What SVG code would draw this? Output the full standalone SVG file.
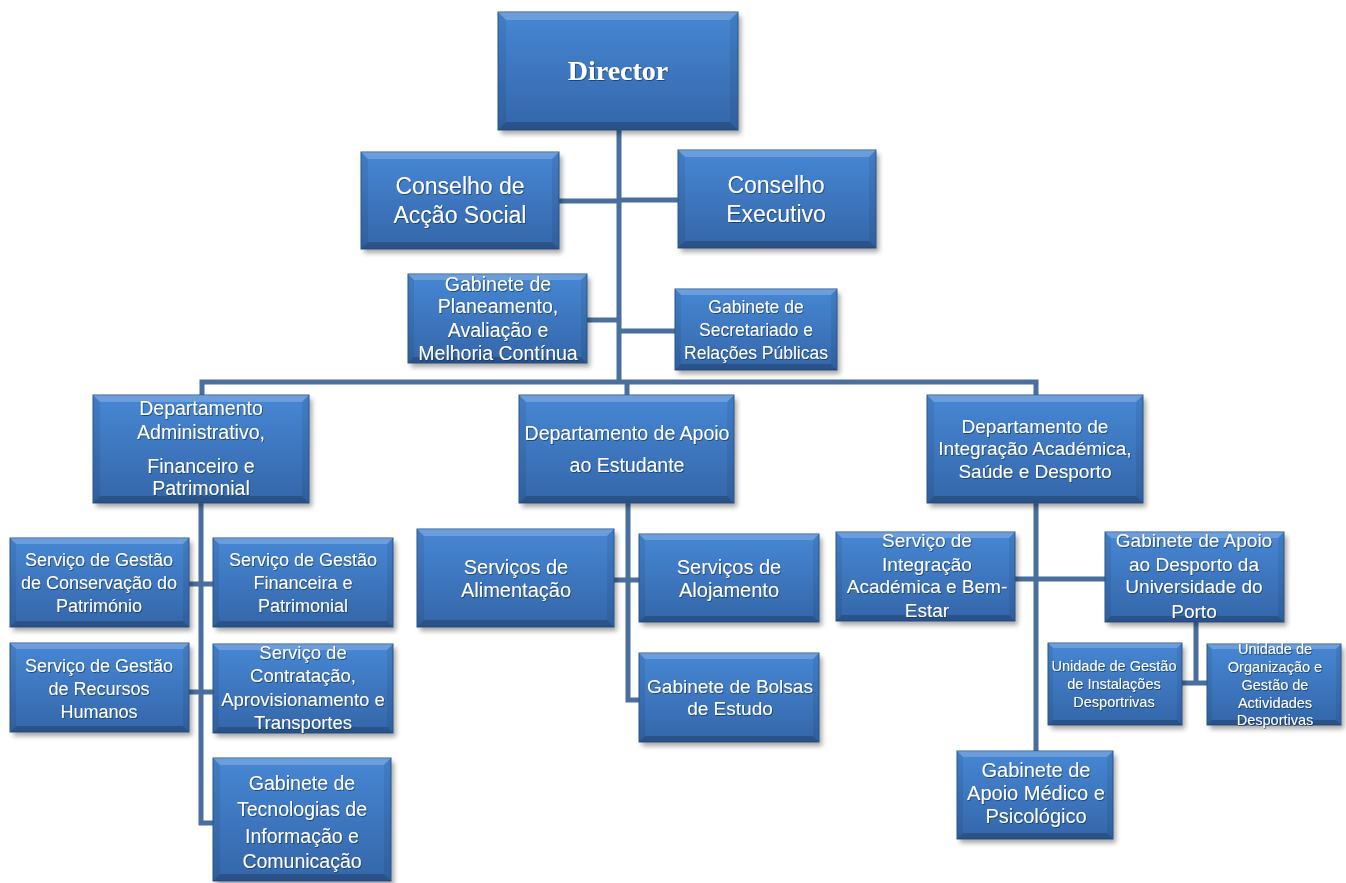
<svg xmlns="http://www.w3.org/2000/svg" width="1346" height="883" viewBox="0 0 1346 883">
<defs>
<linearGradient id="g" x1="0" y1="0" x2="0" y2="1">
<stop offset="0" stop-color="#4787d4"/>
<stop offset="1" stop-color="#3466a9"/>
</linearGradient>
<filter id="sh" x="-10%" y="-10%" width="130%" height="140%">
<feGaussianBlur stdDeviation="2.5"/>
</filter>
<filter id="ts" x="-5%" y="-20%" width="110%" height="140%">
<feDropShadow dx="0.8" dy="1" stdDeviation="0.7" flood-color="#17345c" flood-opacity="0.75"/>
</filter>
</defs>
<style>
.shadow{fill:#000;opacity:0.35;filter:url(#sh)}
.box{fill:url(#g);stroke:#2c5a92;stroke-width:1}
.bt{fill:#ffffff;opacity:0.2}
.bb{fill:#000;opacity:0.2}
.bs{fill:#000;opacity:0.07}
.conn{fill:none;stroke:#4a6f9e;stroke-width:5}
text{fill:#fff;font-family:"Liberation Sans","Noto Sans",sans-serif;text-anchor:middle;filter:url(#ts)}
.dir{font-family:"Liberation Serif","DejaVu Serif",serif;font-weight:bold;font-size:28px}
</style>
<rect width="1346" height="883" fill="#fff"/>
<g id="connectors">
<path class="conn" d="M619,130V382"/>
<path class="conn" d="M559,201H619M619,200H678"/>
<path class="conn" d="M587,320H619M619,331H675"/>
<path class="conn" d="M202,395V382H1036V395M627,382V395"/>
<path class="conn" d="M201,503V823H213M189,584H213M189,692H213"/>
<path class="conn" d="M628,503V700H639M614,580H639"/>
<path class="conn" d="M1036,503V751M1015,579H1105M1196,622V683M1182,683H1207"/>
</g>
<g id="director">
<rect class="shadow" x="501" y="16" width="240" height="118"/>
<rect class="box" x="498" y="12" width="240" height="118"/>
<path class="bt" d="M498,12h240l-8,8h-224Z"/><path class="bb" d="M498,130h240l-8,-8h-224Z"/><path class="bs" d="M498,12l8,8v102l-8,8ZM738,12l-8,8v102l8,8Z"/>
<text class="dir" x="618" y="80">Director</text>
</g>
<g id="conselho-social">
<rect class="shadow" x="364" y="156" width="198" height="97"/>
<rect class="box" x="361" y="152" width="198" height="97"/>
<path class="bt" d="M361,152h198l-7,7h-184Z"/><path class="bb" d="M361,249h198l-7,-7h-184Z"/><path class="bs" d="M361,152l7,7v83l-7,7ZM559,152l-7,7v83l7,7Z"/>
<text font-size="23" x="460" y="194">Conselho de</text><text font-size="23" x="460" y="223">Acção Social</text>
</g>
<g id="conselho-executivo">
<rect class="shadow" x="681" y="154" width="198" height="98"/>
<rect class="box" x="678" y="150" width="198" height="98"/>
<path class="bt" d="M678,150h198l-7,7h-184Z"/><path class="bb" d="M678,248h198l-7,-7h-184Z"/><path class="bs" d="M678,150l7,7v84l-7,7ZM876,150l-7,7v84l7,7Z"/>
<text font-size="23" x="776" y="193">Conselho</text><text font-size="23" x="776" y="222">Executivo</text>
</g>
<g id="gab-planeamento">
<rect class="shadow" x="411" y="278" width="179" height="89"/>
<rect class="box" x="408" y="274" width="179" height="89"/>
<path class="bt" d="M408,274h179l-6,6h-167Z"/><path class="bb" d="M408,363h179l-6,-6h-167Z"/><path class="bs" d="M408,274l6,6v77l-6,6ZM587,274l-6,6v77l6,6Z"/>
<text font-size="19.5" x="498" y="291">Gabinete de</text><text font-size="19.5" x="498" y="313">Planeamento,</text><text font-size="19.5" x="498" y="337">Avaliação e</text><text font-size="19.5" x="498" y="360">Melhoria Contínua</text>
</g>
<g id="gab-secretariado">
<rect class="shadow" x="678" y="293" width="162" height="81"/>
<rect class="box" x="675" y="289" width="162" height="81"/>
<path class="bt" d="M675,289h162l-6,6h-150Z"/><path class="bb" d="M675,370h162l-6,-6h-150Z"/><path class="bs" d="M675,289l6,6v69l-6,6ZM837,289l-6,6v69l6,6Z"/>
<text font-size="17.5" x="756" y="313">Gabinete de</text><text font-size="17.5" x="756" y="336">Secretariado e</text><text font-size="17.5" x="756" y="359">Relações Públicas</text>
</g>
<g id="dept-administrativo">
<rect class="shadow" x="96" y="399" width="216" height="108"/>
<rect class="box" x="93" y="395" width="216" height="108"/>
<path class="bt" d="M93,395h216l-7,7h-202Z"/><path class="bb" d="M93,503h216l-7,-7h-202Z"/><path class="bs" d="M93,395l7,7v94l-7,7ZM309,395l-7,7v94l7,7Z"/>
<text font-size="19.5" x="201" y="415">Departamento</text><text font-size="19.5" x="201" y="439">Administrativo,</text><text font-size="19.5" x="201" y="473">Financeiro e</text><text font-size="19.5" x="201" y="495">Patrimonial</text>
</g>
<g id="dept-apoio-estudante">
<rect class="shadow" x="522" y="399" width="215" height="108"/>
<rect class="box" x="519" y="395" width="215" height="108"/>
<path class="bt" d="M519,395h215l-7,7h-201Z"/><path class="bb" d="M519,503h215l-7,-7h-201Z"/><path class="bs" d="M519,395l7,7v94l-7,7ZM734,395l-7,7v94l7,7Z"/>
<text font-size="19.5" x="627" y="440">Departamento de Apoio</text><text font-size="19.5" x="627" y="472">ao Estudante</text>
</g>
<g id="dept-integracao">
<rect class="shadow" x="930" y="399" width="216" height="108"/>
<rect class="box" x="927" y="395" width="216" height="108"/>
<path class="bt" d="M927,395h216l-7,7h-202Z"/><path class="bb" d="M927,503h216l-7,-7h-202Z"/><path class="bs" d="M927,395l7,7v94l-7,7ZM1143,395l-7,7v94l7,7Z"/>
<text font-size="19" x="1035" y="433">Departamento de</text><text font-size="19" x="1035" y="455">Integração Académica,</text><text font-size="19" x="1035" y="478">Saúde e Desporto</text>
</g>
<g id="sv-conservacao">
<rect class="shadow" x="13" y="542" width="179" height="89"/>
<rect class="box" x="10" y="538" width="179" height="89"/>
<path class="bt" d="M10,538h179l-6,6h-167Z"/><path class="bb" d="M10,627h179l-6,-6h-167Z"/><path class="bs" d="M10,538l6,6v77l-6,6ZM189,538l-6,6v77l6,6Z"/>
<text font-size="18" x="99" y="566">Serviço de Gestão</text><text font-size="18" x="99" y="589">de Conservação do</text><text font-size="18" x="99" y="612">Património</text>
</g>
<g id="sv-financeira">
<rect class="shadow" x="216" y="542" width="180" height="89"/>
<rect class="box" x="213" y="538" width="180" height="89"/>
<path class="bt" d="M213,538h180l-6,6h-168Z"/><path class="bb" d="M213,627h180l-6,-6h-168Z"/><path class="bs" d="M213,538l6,6v77l-6,6ZM393,538l-6,6v77l6,6Z"/>
<text font-size="18" x="303" y="566">Serviço de Gestão</text><text font-size="18" x="303" y="589">Financeira e</text><text font-size="18" x="303" y="612">Patrimonial</text>
</g>
<g id="sv-recursos-humanos">
<rect class="shadow" x="13" y="647" width="179" height="89"/>
<rect class="box" x="10" y="643" width="179" height="89"/>
<path class="bt" d="M10,643h179l-6,6h-167Z"/><path class="bb" d="M10,732h179l-6,-6h-167Z"/><path class="bs" d="M10,643l6,6v77l-6,6ZM189,643l-6,6v77l6,6Z"/>
<text font-size="18" x="99" y="672">Serviço de Gestão</text><text font-size="18" x="99" y="695">de Recursos</text><text font-size="18" x="99" y="718">Humanos</text>
</g>
<g id="sv-contratacao">
<rect class="shadow" x="216" y="648" width="180" height="89"/>
<rect class="box" x="213" y="644" width="180" height="89"/>
<path class="bt" d="M213,644h180l-6,6h-168Z"/><path class="bb" d="M213,733h180l-6,-6h-168Z"/><path class="bs" d="M213,644l6,6v77l-6,6ZM393,644l-6,6v77l6,6Z"/>
<text font-size="18.5" x="303" y="659">Serviço de</text><text font-size="18.5" x="303" y="682">Contratação,</text><text font-size="18.5" x="303" y="706">Aprovisionamento e</text><text font-size="18.5" x="303" y="729">Transportes</text>
</g>
<g id="gab-tecnologias">
<rect class="shadow" x="216" y="762" width="178" height="123"/>
<rect class="box" x="213" y="758" width="178" height="123"/>
<path class="bt" d="M213,758h178l-7,7h-164Z"/><path class="bb" d="M213,881h178l-7,-7h-164Z"/><path class="bs" d="M213,758l7,7v109l-7,7ZM391,758l-7,7v109l7,7Z"/>
<text font-size="19.5" x="302" y="790">Gabinete de</text><text font-size="19.5" x="302" y="816">Tecnologias de</text><text font-size="19.5" x="302" y="843">Informação e</text><text font-size="19.5" x="302" y="868">Comunicação</text>
</g>
<g id="sv-alimentacao">
<rect class="shadow" x="420" y="533" width="197" height="98"/>
<rect class="box" x="417" y="529" width="197" height="98"/>
<path class="bt" d="M417,529h197l-7,7h-183Z"/><path class="bb" d="M417,627h197l-7,-7h-183Z"/><path class="bs" d="M417,529l7,7v84l-7,7ZM614,529l-7,7v84l7,7Z"/>
<text font-size="20" x="516" y="574">Serviços de</text><text font-size="20" x="516" y="597">Alimentação</text>
</g>
<g id="sv-alojamento">
<rect class="shadow" x="642" y="538" width="180" height="88"/>
<rect class="box" x="639" y="534" width="180" height="88"/>
<path class="bt" d="M639,534h180l-6,6h-168Z"/><path class="bb" d="M639,622h180l-6,-6h-168Z"/><path class="bs" d="M639,534l6,6v76l-6,6ZM819,534l-6,6v76l6,6Z"/>
<text font-size="20" x="729" y="574">Serviços de</text><text font-size="20" x="729" y="597">Alojamento</text>
</g>
<g id="gab-bolsas">
<rect class="shadow" x="642" y="657" width="180" height="89"/>
<rect class="box" x="639" y="653" width="180" height="89"/>
<path class="bt" d="M639,653h180l-6,6h-168Z"/><path class="bb" d="M639,742h180l-6,-6h-168Z"/><path class="bs" d="M639,653l6,6v77l-6,6ZM819,653l-6,6v77l6,6Z"/>
<text font-size="19" x="730" y="693">Gabinete de Bolsas</text><text font-size="19" x="730" y="715">de Estudo</text>
</g>
<g id="sv-integracao">
<rect class="shadow" x="839" y="536" width="179" height="89"/>
<rect class="box" x="836" y="532" width="179" height="89"/>
<path class="bt" d="M836,532h179l-6,6h-167Z"/><path class="bb" d="M836,621h179l-6,-6h-167Z"/><path class="bs" d="M836,532l6,6v77l-6,6ZM1015,532l-6,6v77l6,6Z"/>
<text font-size="19" x="927" y="547">Serviço de</text><text font-size="19" x="927" y="571">Integração</text><text font-size="19" x="927" y="593">Académica e Bem-</text><text font-size="19" x="927" y="617">Estar</text>
</g>
<g id="gab-desporto">
<rect class="shadow" x="1108" y="536" width="179" height="90"/>
<rect class="box" x="1105" y="532" width="179" height="90"/>
<path class="bt" d="M1105,532h179l-6,6h-167Z"/><path class="bb" d="M1105,622h179l-6,-6h-167Z"/><path class="bs" d="M1105,532l6,6v78l-6,6ZM1284,532l-6,6v78l6,6Z"/>
<text font-size="19" x="1194" y="547">Gabinete de Apoio</text><text font-size="19" x="1194" y="571">ao Desporto da</text><text font-size="19" x="1194" y="593">Universidade do</text><text font-size="19" x="1194" y="618">Porto</text>
</g>
<g id="un-instalacoes">
<rect class="shadow" x="1051" y="647" width="134" height="82"/>
<rect class="box" x="1048" y="643" width="134" height="82"/>
<path class="bt" d="M1048,643h134l-5,5h-124Z"/><path class="bb" d="M1048,725h134l-5,-5h-124Z"/><path class="bs" d="M1048,643l5,5v72l-5,5ZM1182,643l-5,5v72l5,5Z"/>
<text font-size="14.5" x="1114" y="671">Unidade de Gestão</text><text font-size="14.5" x="1114" y="689">de Instalações</text><text font-size="14.5" x="1114" y="707">Desportrivas</text>
</g>
<g id="un-organizacao">
<rect class="shadow" x="1210" y="648" width="134" height="81"/>
<rect class="box" x="1207" y="644" width="134" height="81"/>
<path class="bt" d="M1207,644h134l-5,5h-124Z"/><path class="bb" d="M1207,725h134l-5,-5h-124Z"/><path class="bs" d="M1207,644l5,5v71l-5,5ZM1341,644l-5,5v71l5,5Z"/>
<text font-size="14.5" x="1275" y="654">Unidade de</text><text font-size="14.5" x="1275" y="672">Organização e</text><text font-size="14.5" x="1275" y="690">Gestão de</text><text font-size="14.5" x="1275" y="708">Actividades</text><text font-size="14.5" x="1275" y="725">Desportivas</text>
</g>
<g id="gab-medico">
<rect class="shadow" x="960" y="755" width="156" height="88"/>
<rect class="box" x="957" y="751" width="156" height="88"/>
<path class="bt" d="M957,751h156l-6,6h-144Z"/><path class="bb" d="M957,839h156l-6,-6h-144Z"/><path class="bs" d="M957,751l6,6v76l-6,6ZM1113,751l-6,6v76l6,6Z"/>
<text font-size="20" x="1036" y="777">Gabinete de</text><text font-size="20" x="1036" y="800">Apoio Médico e</text><text font-size="20" x="1036" y="823">Psicológico</text>
</g>
</svg>
